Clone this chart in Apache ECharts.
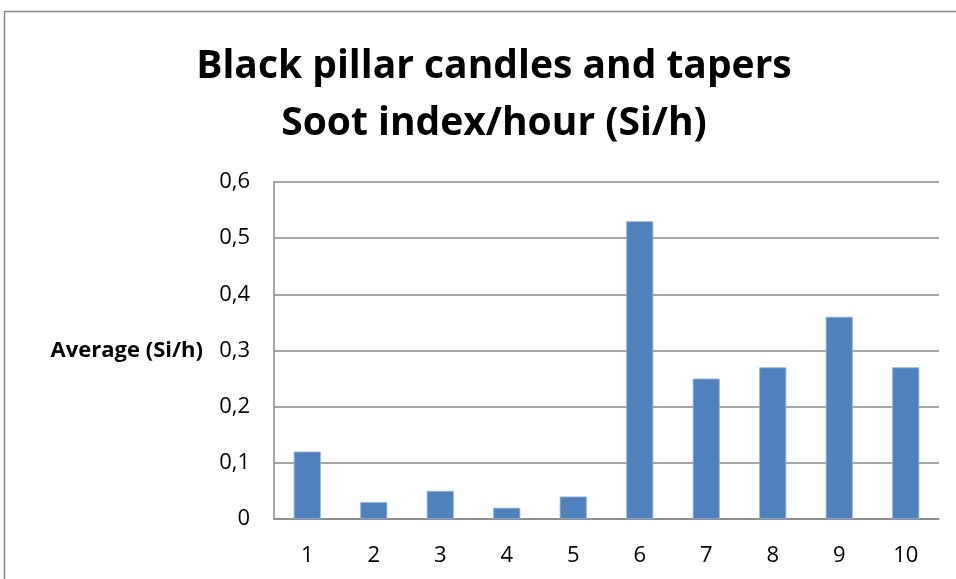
<!DOCTYPE html>
<html>
<head>
<meta charset="utf-8">
<script src="https://cdn.jsdelivr.net/npm/echarts@6/dist/echarts.min.js"></script>
<style>
  html, body { margin: 0; padding: 0; background: #fff; }
  #main { width: 956px; height: 579px; }
</style>
</head>
<body>
<div id="main"></div>
<script>
// data
var categories = ['1', '2', '3', '4', '5', '6', '7', '8', '9', '10'];
var sootValues = [0.12, 0.03, 0.05, 0.02, 0.04, 0.53, 0.25, 0.27, 0.36, 0.27];
var yTicks = [0, 0.1, 0.2, 0.3, 0.4, 0.5, 0.6];

var myChart = echarts.init(document.getElementById('main'));
var fontFam = '"Open Sans", "Noto Sans", sans-serif';

var option = {
	backgroundColor: '#fff',
	animation: false,
	graphic: [{
		type: 'rect',
		shape: { x: 4.5, y: 11.5, width: 1000, height: 1000 },
		style: { fill: 'none', stroke: '#888', lineWidth: 1.5 },
		silent: true
	}],
	title: {
		text: 'Black pillar candles and tapers\nSoot index/hour (Si/h)',
		left: 489,
		top: 33,
		textAlign: 'center',
		textStyle: {
			fontFamily: fontFam,
			fontWeight: 'bold',
			fontSize: 39,
			lineHeight: 57,
			color: '#000'
		}
	},
	grid: {
		left: 274,
		right: 17,
		top: 182,
		bottom: 60
	},
	xAxis: {
		type: 'category',
		data: categories,
		axisTick: { show: false },
		axisLine: { lineStyle: { color: '#888', width: 1.5 } },
		axisLabel: {
			margin: 26,
			fontFamily: fontFam,
			fontSize: 22,
			color: '#000'
		}
	},
	yAxis: {
		type: 'value',
		min: yTicks[0],
		max: yTicks[yTicks.length - 1],
		interval: 0.1,
		name: 'Average (Si/h)',
		nameLocation: 'middle',
		nameRotate: 0,
		nameGap: 71,
		nameTextStyle: {
			fontFamily: fontFam,
			fontWeight: 'bold',
			fontSize: 22,
			color: '#000',
			align: 'right',
			padding: [4, 0, 0, 0]
		},
		axisLine: { show: true, lineStyle: { color: '#888', width: 1.5 } },
		axisTick: { show: false },
		splitLine: { lineStyle: { color: '#888', width: 1.5 } },
		axisLabel: {
			margin: 24,
			fontFamily: fontFam,
			fontSize: 22,
			color: '#000',
			formatter: function(v) {
				return v.toFixed(1).replace('.', ',').replace(/^0,0$/, '0');
			}
		}
	},
	series: [{
		type: 'bar',
		data: sootValues,
		barWidth: 27,
		itemStyle: {
			color: '#4f81bd',
			borderColor: '#8fb0d9',
			borderWidth: 0.8
		}
	}]
};
myChart.setOption(option);
</script>
</body>
</html>
